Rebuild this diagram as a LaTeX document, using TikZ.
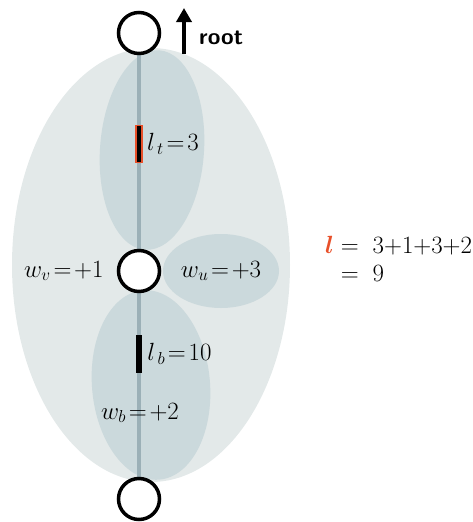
\documentclass[tikz,border=0pt]{standalone}
\usepackage{amsmath}
\definecolor{blobouter}{HTML}{E3E9E9}
\definecolor{blobinner}{HTML}{CBD9DC}
\definecolor{spine}{HTML}{9BB0B7}
\definecolor{lenred}{HTML}{E8502A}
\usetikzlibrary{positioning,arrows.meta,backgrounds}

\begin{document}
\begin{tikzpicture}[x=1pt, y=-1pt,
      vertex/.style={circle, draw=black, line width=3.5pt, fill=white,
                     minimum size=41pt, inner sep=0pt},
      lenbar/.style={rectangle, fill=black, minimum width=6pt,
                     minimum height=38pt, inner sep=0pt},
      lbl/.style={font=\fontsize{23}{28}\selectfont, inner sep=0pt},
    ]
    \useasboundingbox (0,0) rectangle (473,522);
    % vertices on the spine
    \node[vertex] (root) at (139,33) {};
    \node[vertex] (v) at (139,271) {};
    \node[vertex] (leaf) at (139,499) {};

    % heavy edges
    \node[lenbar, draw=lenred, line width=1.8pt, minimum height=37pt] (bart) at (139,144) {};
    \node[lenbar] (barb) at (139,354) {};

    % labels
    \node[lbl, right=4pt of bart] (lt) {$l_{\,t}\!=\!3$};
    \node[lbl, right=5pt of barb] (lb) {$l_{\,b}\!=\!10$};
    \node[lbl, left=13pt of v] (wv) {$w_v\!=\!{+}1$};
    \node[lbl] (wu) at (221,271) {$w_u\!=\!{+}3$};
    \node[lbl] (wb) at (140,413) {$w_b\!=\!{+}2$};
    \node[lbl, anchor=west] (total) at (325,262)
      {$\begin{array}{@{}r@{\;}l@{}}
         \color{lenred}\boldsymbol{l} & =\ 3{+}1{+}3{+}2\\
                                      & =\ 9
       \end{array}$};

    % root marker
    \coordinate (up0) at (184,54);
    \coordinate (up1) at (184,8);
    \draw[line width=3.5pt, -{Triangle[length=14pt, width=15pt]}] (up0) -- (up1);
    \node[font=\sffamily\bfseries\fontsize{23}{27}\selectfont, anchor=west, inner sep=0pt]
      (rootlbl) at (199,38) {root};

    \begin{scope}[on background layer]
      \fill[blobouter] (151,265) ellipse [x radius=139, y radius=217];
      \fill[blobinner, rotate around={-4:(152,150)}] (152,150) ellipse [x radius=52, y radius=100];
      \fill[blobinner] (221,271) ellipse [x radius=58, y radius=37];
      \fill[blobinner, rotate around={5:(151,385)}] (151,385) ellipse [x radius=59, y radius=95];
      \draw[spine, line width=4pt] (root) -- (leaf);
    \end{scope}
  \end{tikzpicture}
\end{document}
